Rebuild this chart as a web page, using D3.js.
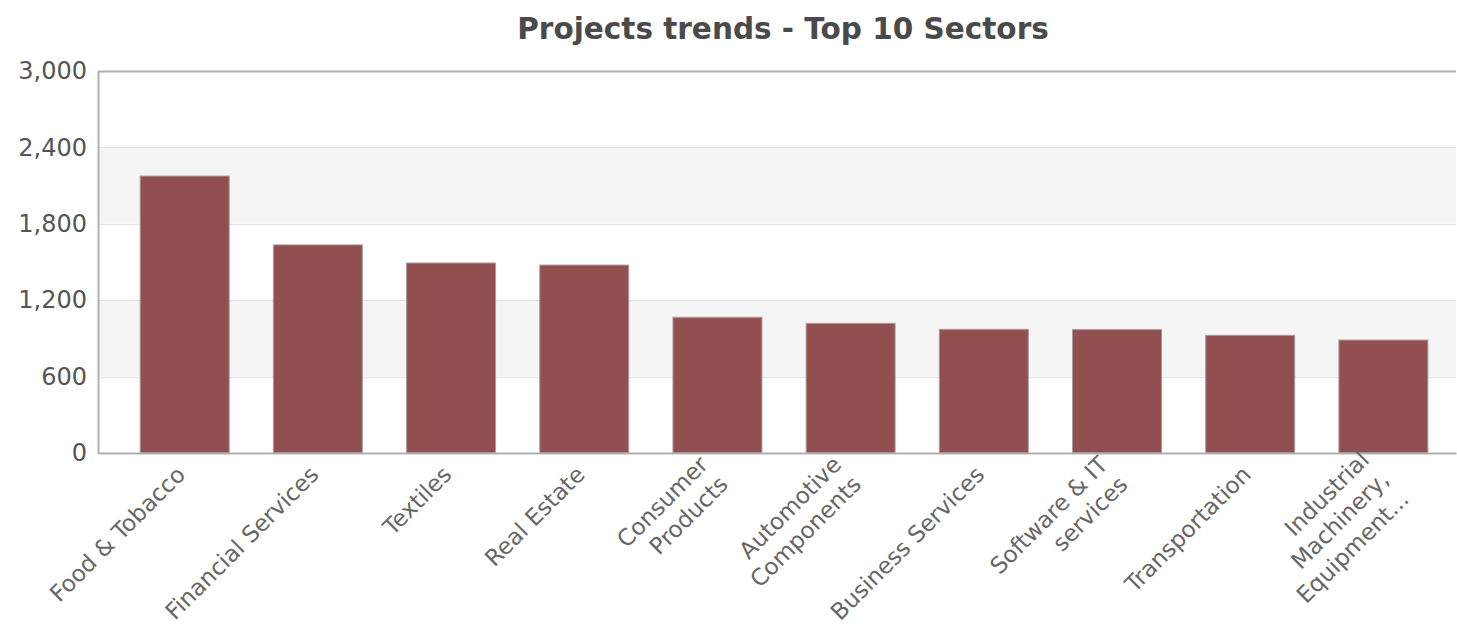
<!DOCTYPE html>
<html>
<head>
<meta charset="utf-8">
<script src="https://cdn.jsdelivr.net/npm/d3@7"></script>
<style>
  body { margin: 0; background: #fff; }
  svg { display: block; }
  .axis text { font-family: "DejaVu Sans", Verdana, sans-serif; }
</style>
</head>
<body>
<div id="chart"></div>
<script>
(function () {

  const sectors = ["Food & Tobacco", "Financial Services", "Textiles", "Real Estate", "Consumer Products",
    "Automotive Components", "Business Services", "Software & IT services", "Transportation",
    "Industrial Machinery, Equipment..."]
  const sectorLines = [
    ["Food & Tobacco"], ["Financial Services"], ["Textiles"], ["Real Estate"], ["Consumer", "Products"],
    ["Automotive", "Components"], ["Business Services"], ["Software & IT", "services"], ["Transportation"],
    ["Industrial", "Machinery,", "Equipment..."]
  ]
  const projects = [2175, 1634, 1492, 1476, 1066, 1018, 971, 969, 924, 887]
  const yTicks = [0, 600, 1200, 1800, 2400, 3000]

  const W = 1457, H = 632
  const margin = { top: 71, right: 1, bottom: 179, left: 98 }
  const width = W - margin.left - margin.right
  const height = H - margin.top - margin.bottom

  const svg = d3.select("#chart").append("svg")
      .attr("width", W)
      .attr("height", H)

  svg.append("text")
    .attr("x", 783)
    .attr("y", 39)
    .attr("text-anchor", "middle")
    .style("font-family", "'DejaVu Sans', Verdana, sans-serif")
    .style("font-weight", "bold")
    .style("font-size", "29.5px")
    .attr("fill", "#4a4a4a")
    .text("Projects trends - Top 10 Sectors")

  const g = svg.append("g")
      .attr("transform", "translate(" + margin.left + "," + margin.top + ")")

  const x = d3.scaleBand()
    .domain(sectors)
    .range([0, width])
    .paddingInner(0.332)
    .paddingOuter(0.264)
    .align(0.6)

  const y = d3.scaleLinear()
    .domain([0, 3000])
    .range([height, 0])

  // alternating plot bands
  const bands = d3.pairs(yTicks).filter((d, i) => i % 2 == 1)
  g.selectAll(".band")
    .data(bands)
    .join("rect")
    .attr("class", "band")
    .attr("x", 0)
    .attr("width", width)
    .attr("y", d => y(d[1]))
    .attr("height", d => y(d[0]) - y(d[1]))
    .attr("fill", "#f5f5f5")

  // grid lines
  g.selectAll(".grid")
    .data(yTicks.slice(1, -1))
    .join("line")
    .attr("class", "grid")
    .attr("x1", 0)
    .attr("x2", width)
    .attr("y1", d => Math.round(y(d)) + 0.5)
    .attr("y2", d => Math.round(y(d)) + 0.5)
    .attr("stroke", "#e2e2e2")

  // bars
  g.selectAll(".bar")
    .data(projects)
    .join("rect")
    .attr("class", "bar")
    .attr("x", (d, i) => x(sectors[i]))
    .attr("width", x.bandwidth())
    .attr("y", d => y(d))
    .attr("height", d => height - y(d))
    .attr("fill", "#924f4f")
    .attr("stroke", "#a89a9a")
    .attr("stroke-width", 1)

  // frame: top line
  g.append("line")
    .attr("x1", 0).attr("x2", width)
    .attr("y1", 0.5).attr("y2", 0.5)
    .attr("stroke", "#b0b0b0").attr("stroke-width", 2)

  const yAxis = d3.axisLeft(y)
    .tickValues(yTicks)
    .tickSize(0)
    .tickPadding(11)
    .tickFormat(d3.format(","))
  const ya = g.append("g")
    .attr("class", "axis y-axis")
    .call(yAxis)
  ya.select(".domain").attr("stroke", "#b0b0b0").attr("stroke-width", 2)
  ya.selectAll("text")
    .style("font-size", "24px")
    .attr("fill", "#555")

  const xAxis = d3.axisBottom(x).tickSize(0).tickFormat("")
  const xa = g.append("g")
    .attr("class", "axis x-axis")
    .attr("transform", "translate(0," + height + ")")
    .call(xAxis)
  xa.select(".domain").attr("stroke", "#b0b0b0").attr("stroke-width", 2)

  const lh = 28
  xa.selectAll(".tick").each(function (d, i) {
    const lines = sectorLines[i]
    const shift = Math.min((lines.length - 1) / 2, 0.75)
    const t = d3.select(this).append("text")
      .attr("transform", "translate(2,23) rotate(-45)")
      .attr("text-anchor", "end")
      .attr("fill", "#666")
      .style("font-size", "23px")
    lines.forEach((line, j) => {
      t.append("tspan")
        .attr("x", 0)
        .attr("y", (j - shift) * lh)
        .text(line)
    })
  })

})();
</script>
</body>
</html>
